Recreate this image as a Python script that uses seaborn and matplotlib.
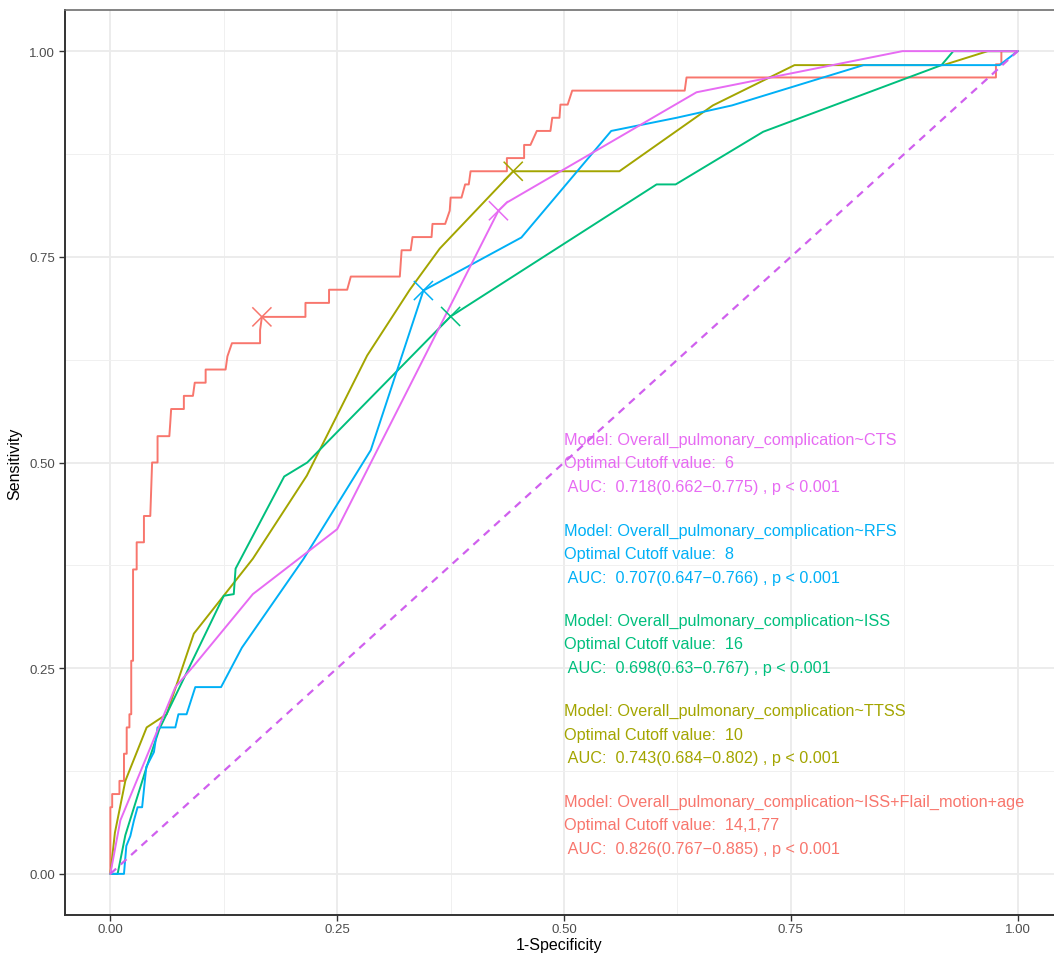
import numpy as np
import pandas as pd
import matplotlib
matplotlib.use("Agg")
import matplotlib.pyplot as plt
import seaborn as sns
from matplotlib.ticker import MultipleLocator

# ---------------- data ----------------
models = [
    "Overall_pulmonary_complication~ISS+Flail_motion+age",
    "Overall_pulmonary_complication~TTSS",
    "Overall_pulmonary_complication~ISS",
    "Overall_pulmonary_complication~RFS",
    "Overall_pulmonary_complication~CTS",
]
colors = ["#F8766D", "#A3A500", "#00BF7D", "#00B0F6", "#E76BF3"]

combo_fpr = [0, 0, 0.002, 0.002, 0.010, 0.010, 0.015, 0.015, 0.018, 0.018, 0.021, 0.021,
             0.023, 0.023, 0.025, 0.025, 0.029, 0.029, 0.037, 0.037, 0.044, 0.046, 0.052,
             0.052, 0.065, 0.066, 0.067, 0.081, 0.081, 0.091, 0.093, 0.105, 0.105, 0.127,
             0.129, 0.134, 0.165, 0.165, 0.167, 0.215, 0.215, 0.241, 0.241, 0.261, 0.265,
             0.319, 0.320, 0.321, 0.331, 0.333, 0.354, 0.355, 0.369, 0.374, 0.375, 0.387,
             0.391, 0.395, 0.397, 0.437, 0.437, 0.456, 0.456, 0.463, 0.470, 0.485, 0.487,
             0.495, 0.496, 0.504, 0.509, 0.633, 0.635, 0.976, 0.976, 0.982, 0.982, 1.0]
combo_tpr = [0, 0.081, 0.081, 0.097, 0.097, 0.113, 0.113, 0.146, 0.146, 0.178, 0.178, 0.194,
             0.194, 0.259, 0.259, 0.370, 0.370, 0.403, 0.403, 0.435, 0.435, 0.500, 0.500,
             0.532, 0.532, 0.548, 0.565, 0.565, 0.581, 0.581, 0.597, 0.597, 0.613, 0.613,
             0.629, 0.645, 0.645, 0.661, 0.677, 0.677, 0.694, 0.694, 0.710, 0.710, 0.726,
             0.726, 0.742, 0.758, 0.758, 0.774, 0.774, 0.790, 0.790, 0.806, 0.822, 0.822,
             0.838, 0.838, 0.854, 0.854, 0.870, 0.870, 0.886, 0.886, 0.903, 0.903, 0.919,
             0.919, 0.935, 0.935, 0.952, 0.952, 0.968, 0.968, 0.984, 0.984, 1.0, 1.0]

ttss_fpr = [0, 0.005, 0.0165, 0.040, 0.062, 0.092, 0.157, 0.2165, 0.283, 0.330, 0.363, 0.444,
            0.561, 0.664, 0.754, 0.918, 0.967, 1.0]
ttss_tpr = [0, 0.050, 0.113, 0.178, 0.194, 0.292, 0.383, 0.484, 0.630, 0.710, 0.760, 0.854,
            0.854, 0.934, 0.983, 0.983, 1.0, 1.0]

iss_fpr = [0, 0.008, 0.0165, 0.040, 0.054, 0.125, 0.136, 0.138, 0.1916, 0.217, 0.375, 0.602,
           0.623, 0.7195, 0.916, 0.929, 1.0]
iss_tpr = [0, 0, 0.047, 0.130, 0.176, 0.338, 0.340, 0.371, 0.483, 0.500, 0.6775, 0.838,
           0.838, 0.902, 0.983, 1.0, 1.0]

rfs_fpr = [0, 0.0150, 0.0176, 0.022, 0.026, 0.030, 0.035, 0.0396, 0.048, 0.052, 0.0716, 0.075,
           0.084, 0.0936, 0.122, 0.145, 0.213, 0.287, 0.345, 0.453, 0.552, 0.624, 0.685,
           0.830, 0.980, 1.0]
rfs_tpr = [0, 0, 0.034, 0.046, 0.065, 0.081, 0.081, 0.130, 0.148, 0.178, 0.178, 0.194,
           0.194, 0.227, 0.227, 0.275, 0.383, 0.515, 0.709, 0.7735, 0.903, 0.919, 0.934,
           0.983, 0.983, 1.0]

cts_fpr = [0, 0.011, 0.0716, 0.092, 0.157, 0.250, 0.4277, 0.437, 0.646, 0.873, 1.0]
cts_tpr = [0, 0.065, 0.227, 0.253, 0.340, 0.419, 0.806, 0.816, 0.950, 1.0, 1.0]

cutoff_fpr = [0.167, 0.444, 0.375, 0.345, 0.4277]
cutoff_tpr = [0.677, 0.854, 0.6775, 0.709, 0.806]

cutoff_labels = ["14,1,77", "10", "16", "8", "6"]
auc_labels = ["0.826(0.767\u22120.885)", "0.743(0.684\u22120.802)", "0.698(0.63\u22120.767)",
              "0.707(0.647\u22120.766)", "0.718(0.662\u22120.775)"]
p_labels = ["p < 0.001"] * 5

x_ticks = [0.00, 0.25, 0.50, 0.75, 1.00]
y_ticks = [0.00, 0.25, 0.50, 0.75, 1.00]
tick_labels = ["0.00", "0.25", "0.50", "0.75", "1.00"]

# ---------------- frames ----------------
curves = [(combo_fpr, combo_tpr), (ttss_fpr, ttss_tpr), (iss_fpr, iss_tpr),
          (rfs_fpr, rfs_tpr), (cts_fpr, cts_tpr)]
frames = []
for m, (f, t) in zip(models, curves):
    frames.append(pd.DataFrame({"fpr": f, "tpr": t, "model": m}))
roc_df = pd.concat(frames, ignore_index=True)
cut_df = pd.DataFrame({"fpr": cutoff_fpr, "tpr": cutoff_tpr, "model": models})
palette = dict(zip(models, colors))

# ---------------- figure ----------------
sns.set_theme(style="white")
plt.rcParams["font.family"] = ["Liberation Sans", "DejaVu Sans"]

W, H = 1054, 954
fig = plt.figure(figsize=(W / 100, H / 100), dpi=100)
ax = fig.add_axes([65 / W, 38 / H, (W - 65) / W, (916 - 11) / H])

ax.set_xlim(-0.05, 1.04)
ax.set_ylim(-0.05, 1.05)

ax.xaxis.set_minor_locator(MultipleLocator(0.125))
ax.yaxis.set_minor_locator(MultipleLocator(0.125))
ax.set_xticks(x_ticks)
ax.set_xticklabels(tick_labels)
ax.set_yticks(y_ticks)
ax.set_yticklabels(tick_labels)
ax.grid(which="major", color="#EBEBEB", linewidth=1.3, zorder=0)
ax.grid(which="minor", color="#F0F0F0", linewidth=0.7, zorder=0)
ax.set_axisbelow(True)

sns.lineplot(data=roc_df, x="fpr", y="tpr", hue="model", hue_order=models,
             palette=palette, sort=False, estimator=None, units="model",
             linewidth=1.4, legend=False, ax=ax)
sns.scatterplot(data=cut_df, x="fpr", y="tpr", hue="model", hue_order=models,
                palette=palette, marker="x", s=190, linewidth=1.1,
                legend=False, ax=ax, zorder=5)

ax.plot([0, 1], [0, 1], linestyle=(0, (3.5, 2.8)), color="#D060EE", linewidth=1.6, zorder=6)

# annotations
block_y = [0.0595, 0.1696, 0.2795, 0.389, 0.4994]
line_gap = 0.0287
for i, m in enumerate(models):
    c = colors[i]
    yc = block_y[i]
    ax.text(0.50, yc + line_gap, "Model: " + m, color=c, fontsize=11.7, va="center", ha="left")
    ax.text(0.50, yc, "Optimal Cutoff value:  " + cutoff_labels[i], color=c, fontsize=11.7,
            va="center", ha="left")
    ax.text(0.50, yc - line_gap, " AUC:  " + auc_labels[i] + " , " + p_labels[i], color=c,
            fontsize=11.7, va="center", ha="left")

ax.set_xlabel("1-Specificity", fontsize=11.5, color="black", labelpad=1)
ax.set_ylabel("Sensitivity", fontsize=11.5, color="black", labelpad=5)
ax.tick_params(axis="both", which="major", labelsize=9.5, labelcolor="#4D4D4D",
               length=4, width=1.0, color="#333333", direction="out", pad=3,
               bottom=True, left=True)
ax.tick_params(axis="x", which="major", pad=2)
ax.tick_params(axis="both", which="minor", length=0)

for side in ["left", "bottom"]:
    ax.spines[side].set_color("#333333")
    ax.spines[side].set_linewidth(1.4)
ax.spines["top"].set_color("#6E6E6E")
ax.spines["top"].set_linewidth(1.2)
ax.spines["right"].set_visible(False)

fig.savefig("out.png", dpi=100)
